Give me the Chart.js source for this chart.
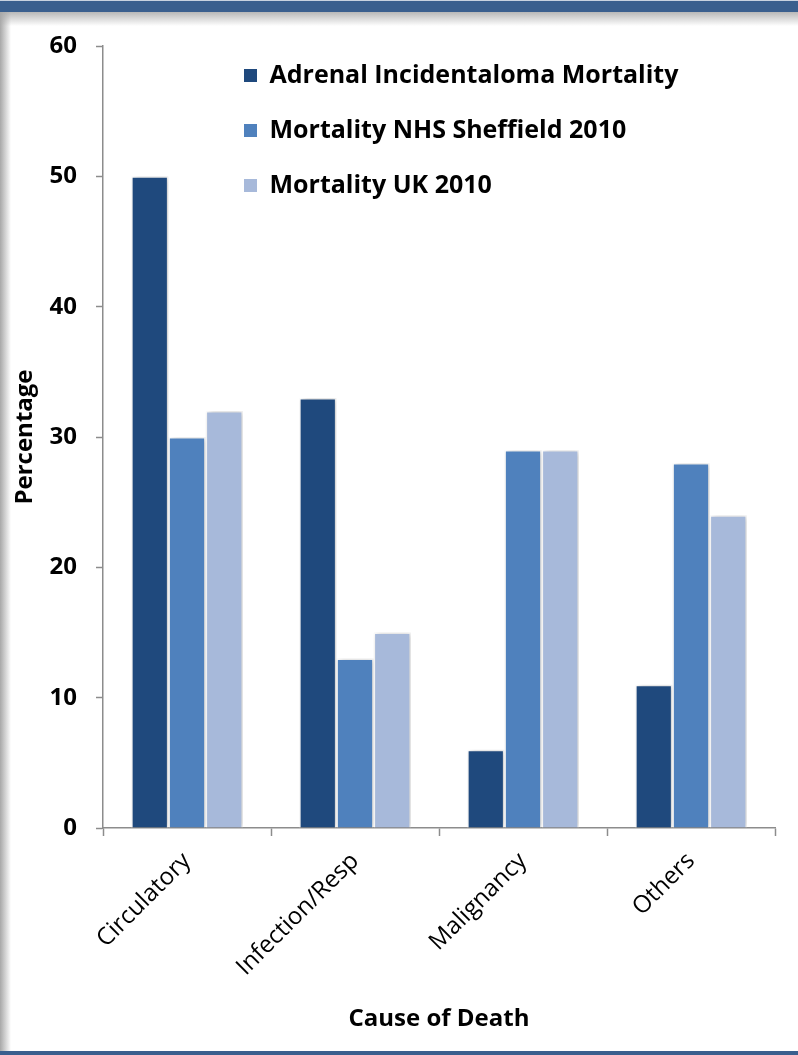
<!DOCTYPE html>
<html>
<head>
<meta charset="utf-8">
<script src="https://cdn.jsdelivr.net/npm/chart.js@4/dist/chart.umd.min.js"></script>
<style>
  html, body { margin: 0; padding: 0; background: #fff; }
  #wrap { position: relative; width: 798px; height: 1055px; overflow: hidden; background: #fff; }
  #topbar { position: absolute; left: 0; top: 0; width: 798px; height: 12px; background: #3a5f8e; border-top: 1px solid #c8d2e0; box-sizing: border-box; }
  #topshade { position: absolute; left: 0; top: 12px; width: 798px; height: 14px; background: linear-gradient(#b8b8b8, rgba(255,255,255,0)); }
  #leftshade { position: absolute; left: 0; top: 12px; width: 11px; height: 1040px; background: linear-gradient(90deg, #a8a8a8, rgba(255,255,255,0)); }
  #bottombar { position: absolute; left: 0; top: 1051px; width: 798px; height: 4px; background: #3a5f8e; }
  canvas { position: absolute; left: 0; top: 0; }
</style>
</head>
<body>
<div id="wrap">
  <div id="topbar"></div>
  <div id="topshade"></div>
  <div id="leftshade"></div>
  <div id="bottombar"></div>
  <canvas id="chart" width="798" height="1055"></canvas>
</div>
<script>
var causes = ['Circulatory', 'Infection/Resp', 'Malignancy', 'Others'];
var adrenalMortality = [50, 33, 6, 11];
var sheffieldMortality = [30, 13, 29, 28];
var ukMortality = [32, 15, 29, 24];
var yTicks = [0, 10, 20, 30, 40, 50, 60];

var fontName = '"Open Sans", Lato, sans-serif';

// soft shadow behind the bars
var barShadow = {
    id: 'barShadow',
    beforeDatasetsDraw: function(chart) {
        var ctx = chart.ctx;
        ctx.save();
        ctx.shadowColor = 'rgba(0,0,0,0.22)';
        ctx.shadowBlur = 6;
        ctx.shadowOffsetX = 2;
        ctx.shadowOffsetY = 0;
    },
    afterDatasetsDraw: function(chart) {
        chart.ctx.restore();
    }
};

// move the legend box to the upper right part of the plot
var legendSpot = {
    id: 'legendSpot',
    afterLayout: function(chart) {
        var lg = chart.legend;
        lg.left = 214;
        lg.top = 33;
    }
};

var ctx = document.getElementById('chart').getContext('2d');
var chart = new Chart(ctx, {
    type: 'bar',
    data: {
        labels: causes,
        datasets: [
            {
                label: 'Adrenal Incidentaloma Mortality',
                data: adrenalMortality,
                backgroundColor: '#1f497d',
                borderColor: 'rgba(255,255,255,0.85)',
                borderWidth: 1.5
            },
            {
                label: 'Mortality NHS Sheffield 2010',
                data: sheffieldMortality,
                backgroundColor: '#4f81bd',
                borderColor: 'rgba(255,255,255,0.85)',
                borderWidth: 1.5
            },
            {
                label: 'Mortality UK 2010',
                data: ukMortality,
                backgroundColor: '#a7b9da',
                borderColor: 'rgba(255,255,255,0.85)',
                borderWidth: 1.5
            }
        ]
    },
    options: {
        responsive: false,
        animation: false,
        events: [],
        layout: { padding: { left: 0, right: 23, top: 46, bottom: 15 } },
        datasets: {
            bar: { categoryPercentage: 0.665, barPercentage: 1.0 }
        },
        plugins: {
            tooltip: { enabled: false },
            legend: {
                position: 'chartArea',
                align: 'start',
                labels: {
                    boxWidth: 13,
                    boxHeight: 13,
                    padding: 30,
                    color: '#000',
                    font: { family: fontName, size: 25, weight: 'bold' },
                    generateLabels: function(chart) {
                        return chart.data.datasets.map(function(ds, i) {
                            return {
                                text: ds.label,
                                fillStyle: ds.backgroundColor,
                                strokeStyle: ds.backgroundColor,
                                lineWidth: 0,
                                hidden: false,
                                datasetIndex: i
                            };
                        });
                    }
                }
            }
        },
        scales: {
            x: {
                grid: {
                    display: true,
                    drawOnChartArea: false,
                    drawTicks: true,
                    tickLength: 8,
                    tickColor: '#8c8c8c',
                    tickWidth: 1.5
                },
                border: { color: '#8c8c8c', width: 1.5 },
                ticks: {
                    color: '#000',
                    maxRotation: 45,
                    minRotation: 45,
                    padding: 11,
                    font: { family: fontName, size: 24 }
                },
                title: {
                    display: true,
                    text: 'Cause of Death',
                    color: '#000',
                    font: { family: fontName, size: 24, weight: 'bold' },
                    padding: { top: 0, bottom: 6 }
                },
                afterFit: function(scale) { scale.height = 212; }
            },
            y: {
                min: 0,
                max: 60,
                afterBuildTicks: function(scale) {
                    scale.ticks = yTicks.map(function(v) { return { value: v }; });
                },
                grid: {
                    display: true,
                    drawOnChartArea: false,
                    drawTicks: true,
                    tickLength: 7,
                    tickColor: '#8c8c8c',
                    tickWidth: 1.5
                },
                border: { color: '#8c8c8c', width: 1.5 },
                ticks: {
                    color: '#000',
                    padding: 19,
                    font: { family: fontName, size: 24, weight: 'bold' }
                },
                title: {
                    display: true,
                    text: 'Percentage',
                    color: '#000',
                    font: { family: fontName, size: 24, weight: 'bold' },
                    padding: { top: 11, bottom: 0 }
                },
                afterFit: function(scale) { scale.width = 103; }
            }
        }
    },
    plugins: [barShadow, legendSpot]
});
</script>
</body>
</html>
